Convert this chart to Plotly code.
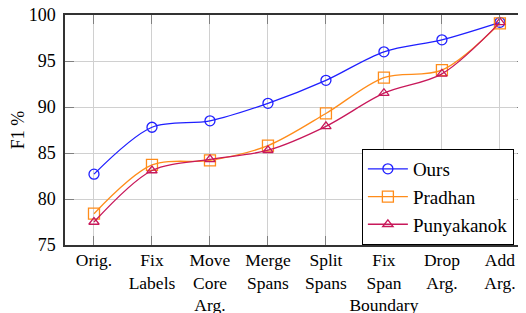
import plotly.graph_objects as go

categories = ["Orig.", "Fix<br>Labels", "Move<br>Core<br>Arg.", "Merge<br>Spans",
              "Split<br>Spans", "Fix<br>Span<br>Boundary", "Drop<br>Arg.", "Add<br>Arg."]
ours = [82.7, 87.8, 88.5, 90.4, 92.9, 96.0, 97.3, 99.2]
pradhan = [78.4, 83.7, 84.2, 85.8, 89.3, 93.2, 94.0, 99.1]
punyakanok = [77.5, 83.1, 84.3, 85.3, 87.9, 91.5, 93.6, 99.2]
y_ticks = [75, 80, 85, 90, 95, 100]

xs = list(range(len(categories)))
FONT = "'Liberation Serif', 'Times New Roman', serif"

fig = go.Figure()
series = [
    ("Ours", ours, "#1f1fff", "circle-open", 10),
    ("Pradhan", pradhan, "#ff8c1a", "square-open", 11),
    ("Punyakanok", punyakanok, "#c8185a", "triangle-up-open", 9),
]
for name, vals, col, sym, sz in series:
    fig.add_trace(go.Scatter(
        x=xs, y=vals, name=name, mode="lines+markers",
        line=dict(color=col, width=1.3, shape="spline", smoothing=0.9),
        marker=dict(symbol=sym, size=sz, color=col, line=dict(width=1.3, color=col)),
    ))

# page body has an 8px margin; offset margins to compensate
fig.update_layout(
    width=526, height=313,
    margin=dict(l=57, r=8, t=7, b=76),
    paper_bgcolor="white", plot_bgcolor="white",
    font=dict(family=FONT, size=18, color="black"),
    showlegend=True,
    legend=dict(x=0.644, y=0, xanchor="left", yanchor="bottom",
                bordercolor="black", borderwidth=1, bgcolor="white",
                font=dict(family=FONT, size=19), itemwidth=40),
)
fig.update_xaxes(
    range=[-0.5, 7.45], tickmode="array", tickvals=xs, ticktext=categories,
    tickangle=0, automargin=False, ticklabeloverflow="allow",
    showgrid=True, gridcolor="#d0d0d0", gridwidth=1,
    ticks="inside", ticklen=9, tickcolor="#808080", tickwidth=1,
    showline=True, linecolor="#333333", linewidth=1.5, mirror="allticks",
    zeroline=False, ticklabelstandoff=-2,
    tickfont=dict(family=FONT, size=17.5),
)
fig.update_yaxes(
    range=[75, 100], tickmode="array", tickvals=y_ticks,
    showgrid=True, gridcolor="#d0d0d0", gridwidth=1,
    ticks="inside", ticklen=9, tickcolor="#808080", tickwidth=1,
    showline=True, linecolor="#333333", linewidth=1.5, mirror="allticks",
    zeroline=False, automargin=False, ticklabeloverflow="allow",
    ticklabelstandoff=4,
    title=dict(text="F1 %", font=dict(family=FONT, size=18), standoff=14),
    tickfont=dict(family=FONT, size=18),
)

fig.write_html("out.html")
